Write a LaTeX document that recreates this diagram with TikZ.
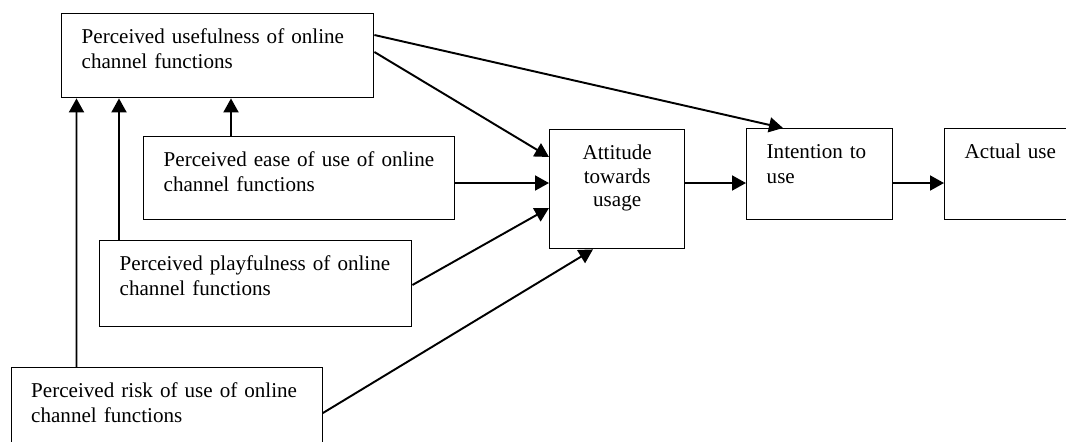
\documentclass[tikz,border=0pt]{standalone}
\usepackage{fontspec}
\setmainfont{Liberation Serif}
\usepackage{tikz}
\usetikzlibrary{arrows.meta,positioning}
\tikzset{factorbox/.style={draw,line width=0.8pt,anchor=north west,align=left,
        inner xsep=0.4cm,inner ysep=0.3cm,text height=0.3cm,
        font=\fontsize{12}{14}\selectfont},
    linkarrow/.style={-{Triangle[length=0.28cm,width=0.3cm]},line width=1.1pt}
}

\begin{document}
\begin{tikzpicture}

\useasboundingbox (0,0) rectangle (21.32,-8.82);

% perceived factors

\node (useful) at (1.22,-0.26) [factorbox,text width=5.44cm,text depth=0.78cm]
    {Perceived usefulness of online\\channel functions};
\node (ease) at (2.86,-2.72) [factorbox,text width=5.42cm,text depth=0.76cm]
    {Perceived ease of use of online\\channel functions};
\node (playful) at (1.98,-4.80) [factorbox,text width=5.44cm,text depth=0.82cm]
    {Perceived playfulness of online\\channel functions};
\node (risk) at (0.21,-7.34) [factorbox,text width=5.42cm,text depth=0.9cm]
    {Perceived risk of use of online\\channel functions};

% attitude, intention and use

\node (attitude) at (10.98,-2.58) [factorbox,align=center,text width=1.9cm,text depth=1.48cm,
    font=\fontsize{12}{13.4}\selectfont]
    {Attitude\\towards\\usage};
\node (intention) at (14.92,-2.56) [factorbox,text width=2.12cm,text depth=0.92cm]
    {Intention to\\use};
\node (actual) at (18.88,-2.56) [factorbox,text width=2.4cm,text depth=0.92cm]
    {Actual use};

\draw [linkarrow] ([xshift=1.76cm]ease.north west) -- ([xshift=3.4cm]useful.south west);
\draw [linkarrow] ([xshift=0.4cm]playful.north west) -- ([xshift=1.16cm]useful.south west);
\draw [linkarrow] ([xshift=1.32cm]risk.north west) -- ([xshift=0.31cm]useful.south west);

\draw [linkarrow] ([yshift=-0.44cm]useful.north east) -- ([xshift=0.74cm]intention.north west);
\draw [linkarrow] ([yshift=-0.78cm]useful.north east) -- ([yshift=-0.56cm]attitude.north west);
\draw [linkarrow] ([yshift=-0.94cm]ease.north east) -- ([yshift=-1.08cm]attitude.north west);
\draw [linkarrow] ([yshift=-0.9cm]playful.north east) -- ([yshift=-1.58cm]attitude.north west);
\draw [linkarrow] ([yshift=-0.92cm]risk.north east) -- ([xshift=0.88cm]attitude.south west);

\draw [linkarrow] ([yshift=-1.08cm]attitude.north east) -- ([yshift=-1.1cm]intention.north west);
\draw [linkarrow] ([yshift=-1.1cm]intention.north east) -- ([yshift=-1.1cm]actual.north west);

\end{tikzpicture}
\end{document}
